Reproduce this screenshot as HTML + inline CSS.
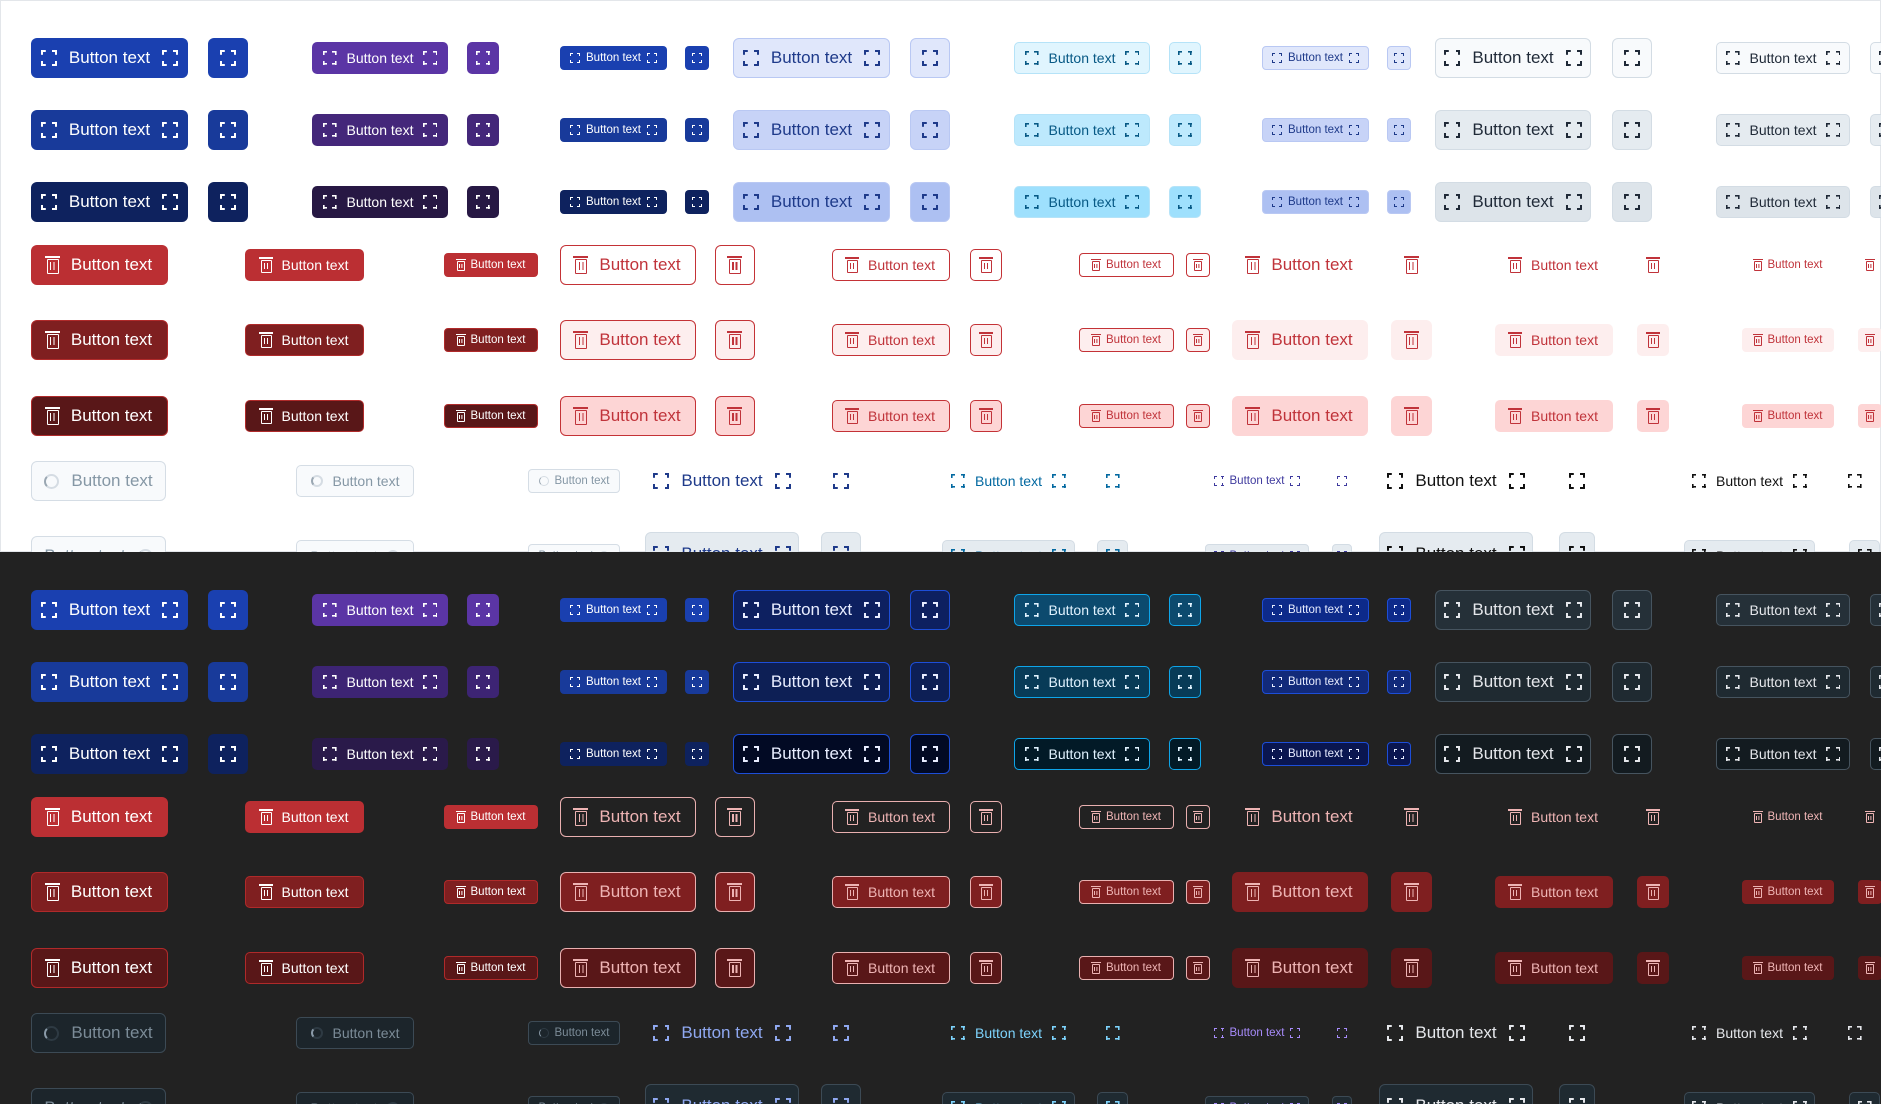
<!DOCTYPE html>
<html><head><meta charset="utf-8"><style>
body{margin:0;width:1881px;height:1104px;position:relative;font-family:"Liberation Sans",sans-serif;overflow:hidden}
.h{position:absolute;left:0;width:1881px;height:552px;overflow:hidden}
.lt{top:0;background:#fff;box-shadow:inset 0 0 0 1px #e3e6ea}
.dk{top:552px;background:#222}
.r{position:absolute;left:0;width:100%;height:0}
.b{position:absolute;box-sizing:border-box;display:flex;align-items:center;justify-content:center;border:1px solid transparent;white-space:nowrap}
.L{top:-20px;height:40px;font-size:17px;border-radius:6px;gap:12px}
.M{top:-16px;height:32px;font-size:14px;border-radius:5px;gap:10px}
.S{top:-12px;height:24px;font-size:11.5px;border-radius:4px;gap:6px}
s{display:inline-block;flex:none;text-decoration:none}
.ic{width:14px;height:14px;background:
linear-gradient(currentColor,currentColor) 0 0/30% 1.6px,linear-gradient(currentColor,currentColor) 0 0/1.6px 30%,
linear-gradient(currentColor,currentColor) 100% 0/30% 1.6px,linear-gradient(currentColor,currentColor) 100% 0/1.6px 30%,
linear-gradient(currentColor,currentColor) 0 100%/30% 1.6px,linear-gradient(currentColor,currentColor) 0 100%/1.6px 30%,
linear-gradient(currentColor,currentColor) 100% 100%/30% 1.6px,linear-gradient(currentColor,currentColor) 100% 100%/1.6px 30%;background-repeat:no-repeat}
.L .ic{width:16px;height:16px;background-size:30% 2px,2px 30%,30% 2px,2px 30%,30% 2px,2px 30%,30% 2px,2px 30%}
.S .ic{width:10px;height:10px;background-size:30% 1.3px,1.3px 30%,30% 1.3px,1.3px 30%,30% 1.3px,1.3px 30%,30% 1.3px,1.3px 30%}
.tr{width:11px;height:13px;box-sizing:border-box;border:1.6px solid currentColor;border-radius:1px;position:relative;margin-top:3px}
.tr:before{content:"";position:absolute;left:-3px;top:-4px;width:14px;height:1.6px;background:currentColor}
.tr:after{content:"";position:absolute;left:2px;top:2px;width:1.3px;height:6px;background:currentColor;box-shadow:3px 0 currentColor}
.L .tr{width:12px;height:15px}
.L .tr:before{width:15px}
.L .tr:after{height:8px;left:2.3px;box-shadow:3.5px 0 currentColor}
.S .tr{width:8px;height:10px;border-width:1.2px;margin-top:2px}
.S .tr:before{left:-2px;top:-3px;width:10px;height:1.2px}
.S .tr:after{left:1.3px;top:1.5px;height:4.5px;width:1px;box-shadow:2.4px 0 currentColor}
.sp{width:15px;height:15px;box-sizing:border-box;border:2px solid #d5dce3;border-left-color:#9aa7b2;border-radius:50%}
.dk .sp{border-color:#2e3a43;border-left-color:#8a9aa8}
.M .sp{width:12px;height:12px}.S .sp{width:10px;height:10px;border-width:1.5px}
.lt .r1 .v1{background:#1a40b0;color:#fff}.lt .r2 .v1{background:#183a9a;color:#fff}.lt .r3 .v1{background:#0e225e;color:#fff}
.lt .r1 .v2{background:#5b35a5;color:#fff}.lt .r2 .v2{background:#44277a;color:#fff}.lt .r3 .v2{background:#271844;color:#fff}
.lt .v3{color:#1e3a8a;border-color:#b9c8f3}.lt .r1 .v3{background:#e0e7fb}.lt .r2 .v3{background:#c7d3f7}.lt .r3 .v3{background:#adc0f2}
.lt .v4{color:#075985;border-color:#b5e3f8}.lt .r1 .v4{background:#e0f5fe}.lt .r2 .v4{background:#bde9fd}.lt .r3 .v4{background:#9ee0fd}
.lt .v5{color:#1f2937;border-color:#d3dce4}.lt .r1 .v5{background:#f8fafc}.lt .r2 .v5{background:#e5ebf0}.lt .r3 .v5{background:#dde4ea}
.dk .r1 .v1{background:#1a40b0;color:#fff}.dk .r2 .v1{background:#183a9a;color:#fff}.dk .r3 .v1{background:#0e225e;color:#fff}
.dk .r1 .v2{background:#5b35a5;color:#fff}.dk .r2 .v2{background:#3d2474;color:#fff}.dk .r3 .v2{background:#2a1a4a;color:#fff}
.dk .v3{color:#e8edff;border-color:#1d4ed8}.dk .r1 .v3{background:#0d2060}.dk .r2 .v3{background:#0d1f55}.dk .r3 .v3{background:#020a24}
.dk .v4{color:#e0f2fe;border-color:#0ea5e9}.dk .r1 .v4{background:#0c4a6e}.dk .r2 .v4{background:#083b57}.dk .r3 .v4{background:#021a27}
.dk .v6{color:#e8edff;border-color:#1d4ed8}.dk .r1 .v6{background:#0d2a8a}.dk .r2 .v6{background:#122a7a}.dk .r3 .v6{background:#0a1650}
.dk .v5{color:#e5e7eb;border-color:#46545f}.dk .r1 .v5{background:#253038}.dk .r2 .v5{background:#1f2a31}.dk .r3 .v5{background:#131b20}
.lt .v6{color:#1e3a8a;border-color:#b9c8f3}.lt .r1 .v6{background:#e0e7fb}.lt .r2 .v6{background:#c7d3f7}.lt .r3 .v6{background:#adc0f2}
.lt .d1{color:#fff}.lt .r4 .d1{background:#bb2f33}.lt .r5 .d1{background:#7f1f20;border-color:#b02a2a}.lt .r6 .d1{background:#591718;border-color:#b02a2a}
.lt .d2{color:#c0333a;border-color:#c43236}.lt .r4 .d2{background:#fff}.lt .r5 .d2{background:#fdeeee}.lt .r6 .d2{background:#fdd5d5}
.lt .d3{color:#c0333a}.lt .r5 .d3{background:#fdeeee}.lt .r6 .d3{background:#fdd5d5}
.dk .d1{color:#fff}.dk .r4 .d1{background:#bb2f33}.dk .r5 .d1{background:#7f1f20;border-color:#b02a2a}.dk .r6 .d1{background:#591718;border-color:#b02a2a}
.dk .d2{color:#eeb4b4;border-color:#e9b0b0}.dk .r5 .d2{background:#7f1f20}.dk .r6 .d2{background:#591718}
.dk .d3{color:#eeb4b4}.dk .r5 .d3{background:#7f1f20}.dk .r6 .d3{background:#591718}
.lt .g1{background:#f8fafc;border-color:#d5dde5;color:#8597a5}
.dk .g1{background:#1c252b;border-color:#3c4a55;color:#7b8b97}
.lt .k1{color:#1e3a8a}.lt .k2{color:#0369a1}.lt .k3{color:#3f3a9e}.lt .k4{color:#111}
.dk .k1{color:#8fa8f0}.dk .k2{color:#7dd3fc}.dk .k3{color:#a78bfa}.dk .k4{color:#e5e7eb}
.lt .r8 .kb{background:#e5ebf0;border-color:#d3dce4}
.dk .r8 .kb{background:#1f2a31;border-color:#3c4a55}
</style></head><body>

<div class="h lt">
<div class="r r1" style="top:58px">
<div class="b L v1" style="left:31px;width:157px"><s class="ic"></s>Button text<s class="ic"></s></div>
<div class="b L v1" style="left:208px;width:40px"><s class="ic"></s></div>
<div class="b M v2" style="left:312px;width:136px"><s class="ic"></s>Button text<s class="ic"></s></div>
<div class="b M v2" style="left:467px;width:32px"><s class="ic"></s></div>
<div class="b S v1" style="left:560px;width:107px"><s class="ic"></s>Button text<s class="ic"></s></div>
<div class="b S v1" style="left:685px;width:24px"><s class="ic"></s></div>
<div class="b L v3" style="left:733px;width:157px"><s class="ic"></s>Button text<s class="ic"></s></div>
<div class="b L v3" style="left:910px;width:40px"><s class="ic"></s></div>
<div class="b M v4" style="left:1014px;width:136px"><s class="ic"></s>Button text<s class="ic"></s></div>
<div class="b M v4" style="left:1169px;width:32px"><s class="ic"></s></div>
<div class="b S v6" style="left:1262px;width:107px"><s class="ic"></s>Button text<s class="ic"></s></div>
<div class="b S v6" style="left:1387px;width:24px"><s class="ic"></s></div>
<div class="b L v5" style="left:1435px;width:156px"><s class="ic"></s>Button text<s class="ic"></s></div>
<div class="b L v5" style="left:1612px;width:40px"><s class="ic"></s></div>
<div class="b M v5" style="left:1716px;width:134px"><s class="ic"></s>Button text<s class="ic"></s></div>
<div class="b M v5" style="left:1870px;width:32px"><s class="ic"></s></div>
</div>
<div class="r r2" style="top:130px">
<div class="b L v1" style="left:31px;width:157px"><s class="ic"></s>Button text<s class="ic"></s></div>
<div class="b L v1" style="left:208px;width:40px"><s class="ic"></s></div>
<div class="b M v2" style="left:312px;width:136px"><s class="ic"></s>Button text<s class="ic"></s></div>
<div class="b M v2" style="left:467px;width:32px"><s class="ic"></s></div>
<div class="b S v1" style="left:560px;width:107px"><s class="ic"></s>Button text<s class="ic"></s></div>
<div class="b S v1" style="left:685px;width:24px"><s class="ic"></s></div>
<div class="b L v3" style="left:733px;width:157px"><s class="ic"></s>Button text<s class="ic"></s></div>
<div class="b L v3" style="left:910px;width:40px"><s class="ic"></s></div>
<div class="b M v4" style="left:1014px;width:136px"><s class="ic"></s>Button text<s class="ic"></s></div>
<div class="b M v4" style="left:1169px;width:32px"><s class="ic"></s></div>
<div class="b S v6" style="left:1262px;width:107px"><s class="ic"></s>Button text<s class="ic"></s></div>
<div class="b S v6" style="left:1387px;width:24px"><s class="ic"></s></div>
<div class="b L v5" style="left:1435px;width:156px"><s class="ic"></s>Button text<s class="ic"></s></div>
<div class="b L v5" style="left:1612px;width:40px"><s class="ic"></s></div>
<div class="b M v5" style="left:1716px;width:134px"><s class="ic"></s>Button text<s class="ic"></s></div>
<div class="b M v5" style="left:1870px;width:32px"><s class="ic"></s></div>
</div>
<div class="r r3" style="top:202px">
<div class="b L v1" style="left:31px;width:157px"><s class="ic"></s>Button text<s class="ic"></s></div>
<div class="b L v1" style="left:208px;width:40px"><s class="ic"></s></div>
<div class="b M v2" style="left:312px;width:136px"><s class="ic"></s>Button text<s class="ic"></s></div>
<div class="b M v2" style="left:467px;width:32px"><s class="ic"></s></div>
<div class="b S v1" style="left:560px;width:107px"><s class="ic"></s>Button text<s class="ic"></s></div>
<div class="b S v1" style="left:685px;width:24px"><s class="ic"></s></div>
<div class="b L v3" style="left:733px;width:157px"><s class="ic"></s>Button text<s class="ic"></s></div>
<div class="b L v3" style="left:910px;width:40px"><s class="ic"></s></div>
<div class="b M v4" style="left:1014px;width:136px"><s class="ic"></s>Button text<s class="ic"></s></div>
<div class="b M v4" style="left:1169px;width:32px"><s class="ic"></s></div>
<div class="b S v6" style="left:1262px;width:107px"><s class="ic"></s>Button text<s class="ic"></s></div>
<div class="b S v6" style="left:1387px;width:24px"><s class="ic"></s></div>
<div class="b L v5" style="left:1435px;width:156px"><s class="ic"></s>Button text<s class="ic"></s></div>
<div class="b L v5" style="left:1612px;width:40px"><s class="ic"></s></div>
<div class="b M v5" style="left:1716px;width:134px"><s class="ic"></s>Button text<s class="ic"></s></div>
<div class="b M v5" style="left:1870px;width:32px"><s class="ic"></s></div>
</div>
<div class="r r4" style="top:265px">
<div class="b L d1" style="left:31px;width:137px"><s class="tr"></s>Button text</div>
<div class="b M d1" style="left:245px;width:119px"><s class="tr"></s>Button text</div>
<div class="b S d1" style="left:444px;width:94px"><s class="tr"></s>Button text</div>
<div class="b L d2" style="left:560px;width:136px"><s class="tr"></s>Button text</div>
<div class="b L d2" style="left:715px;width:40px"><s class="tr"></s></div>
<div class="b M d2" style="left:832px;width:118px"><s class="tr"></s>Button text</div>
<div class="b M d2" style="left:970px;width:32px"><s class="tr"></s></div>
<div class="b S d2" style="left:1079px;width:95px"><s class="tr"></s>Button text</div>
<div class="b S d2" style="left:1186px;width:24px"><s class="tr"></s></div>
<div class="b L d3" style="left:1232px;width:136px"><s class="tr"></s>Button text</div>
<div class="b L d3" style="left:1391px;width:41px"><s class="tr"></s></div>
<div class="b M d3" style="left:1495px;width:118px"><s class="tr"></s>Button text</div>
<div class="b M d3" style="left:1637px;width:32px"><s class="tr"></s></div>
<div class="b S d3" style="left:1742px;width:92px"><s class="tr"></s>Button text</div>
<div class="b S d3" style="left:1858px;width:24px"><s class="tr"></s></div>
</div>
<div class="r r5" style="top:340px">
<div class="b L d1" style="left:31px;width:137px"><s class="tr"></s>Button text</div>
<div class="b M d1" style="left:245px;width:119px"><s class="tr"></s>Button text</div>
<div class="b S d1" style="left:444px;width:94px"><s class="tr"></s>Button text</div>
<div class="b L d2" style="left:560px;width:136px"><s class="tr"></s>Button text</div>
<div class="b L d2" style="left:715px;width:40px"><s class="tr"></s></div>
<div class="b M d2" style="left:832px;width:118px"><s class="tr"></s>Button text</div>
<div class="b M d2" style="left:970px;width:32px"><s class="tr"></s></div>
<div class="b S d2" style="left:1079px;width:95px"><s class="tr"></s>Button text</div>
<div class="b S d2" style="left:1186px;width:24px"><s class="tr"></s></div>
<div class="b L d3" style="left:1232px;width:136px"><s class="tr"></s>Button text</div>
<div class="b L d3" style="left:1391px;width:41px"><s class="tr"></s></div>
<div class="b M d3" style="left:1495px;width:118px"><s class="tr"></s>Button text</div>
<div class="b M d3" style="left:1637px;width:32px"><s class="tr"></s></div>
<div class="b S d3" style="left:1742px;width:92px"><s class="tr"></s>Button text</div>
<div class="b S d3" style="left:1858px;width:24px"><s class="tr"></s></div>
</div>
<div class="r r6" style="top:416px">
<div class="b L d1" style="left:31px;width:137px"><s class="tr"></s>Button text</div>
<div class="b M d1" style="left:245px;width:119px"><s class="tr"></s>Button text</div>
<div class="b S d1" style="left:444px;width:94px"><s class="tr"></s>Button text</div>
<div class="b L d2" style="left:560px;width:136px"><s class="tr"></s>Button text</div>
<div class="b L d2" style="left:715px;width:40px"><s class="tr"></s></div>
<div class="b M d2" style="left:832px;width:118px"><s class="tr"></s>Button text</div>
<div class="b M d2" style="left:970px;width:32px"><s class="tr"></s></div>
<div class="b S d2" style="left:1079px;width:95px"><s class="tr"></s>Button text</div>
<div class="b S d2" style="left:1186px;width:24px"><s class="tr"></s></div>
<div class="b L d3" style="left:1232px;width:136px"><s class="tr"></s>Button text</div>
<div class="b L d3" style="left:1391px;width:41px"><s class="tr"></s></div>
<div class="b M d3" style="left:1495px;width:118px"><s class="tr"></s>Button text</div>
<div class="b M d3" style="left:1637px;width:32px"><s class="tr"></s></div>
<div class="b S d3" style="left:1742px;width:92px"><s class="tr"></s>Button text</div>
<div class="b S d3" style="left:1858px;width:24px"><s class="tr"></s></div>
</div>
<div class="r r7" style="top:481px">
<div class="b L g1" style="left:31px;width:135px"><s class="sp"></s>Button text</div>
<div class="b M g1" style="left:296px;width:118px"><s class="sp"></s>Button text</div>
<div class="b S g1" style="left:528px;width:92px"><s class="sp"></s>Button text</div>
<div class="b L k1" style="left:645px;width:154px"><s class="ic"></s>Button text<s class="ic"></s></div>
<div class="b L k1" style="left:821px;width:40px"><s class="ic"></s></div>
<div class="b M k2" style="left:942px;width:133px"><s class="ic"></s>Button text<s class="ic"></s></div>
<div class="b M k2" style="left:1097px;width:31px"><s class="ic"></s></div>
<div class="b S k3" style="left:1205px;width:104px"><s class="ic"></s>Button text<s class="ic"></s></div>
<div class="b S k3" style="left:1332px;width:20px"><s class="ic"></s></div>
<div class="b L k4" style="left:1379px;width:154px"><s class="ic"></s>Button text<s class="ic"></s></div>
<div class="b L k4" style="left:1557px;width:40px"><s class="ic"></s></div>
<div class="b M k4" style="left:1684px;width:131px"><s class="ic"></s>Button text<s class="ic"></s></div>
<div class="b M k4" style="left:1839px;width:31px"><s class="ic"></s></div>
</div>
<div class="r r8" style="top:556px">
<div class="b L g1" style="left:31px;width:135px">Button text<s class="sp"></s></div>
<div class="b M g1" style="left:296px;width:118px">Button text<s class="sp"></s></div>
<div class="b S g1" style="left:528px;width:92px">Button text<s class="sp"></s></div>
<div class="b L k1 kb" style="left:645px;width:154px;top:-24px;height:44px"><s class="ic"></s>Button text<s class="ic"></s></div>
<div class="b L k1 kb" style="left:821px;width:40px;top:-24px;height:44px"><s class="ic"></s></div>
<div class="b M k2 kb" style="left:942px;width:133px"><s class="ic"></s>Button text<s class="ic"></s></div>
<div class="b M k2 kb" style="left:1097px;width:31px"><s class="ic"></s></div>
<div class="b S k3 kb" style="left:1205px;width:104px"><s class="ic"></s>Button text<s class="ic"></s></div>
<div class="b S k3 kb" style="left:1332px;width:20px"><s class="ic"></s></div>
<div class="b L k4 kb" style="left:1379px;width:154px;top:-24px;height:44px"><s class="ic"></s>Button text<s class="ic"></s></div>
<div class="b L k4 kb" style="left:1559px;width:36px;top:-24px;height:44px"><s class="ic"></s></div>
<div class="b M k4 kb" style="left:1684px;width:131px"><s class="ic"></s>Button text<s class="ic"></s></div>
<div class="b M k4 kb" style="left:1849px;width:31px"><s class="ic"></s></div>
</div>
</div>

<div class="h dk">
<div class="r r1" style="top:58px">
<div class="b L v1" style="left:31px;width:157px"><s class="ic"></s>Button text<s class="ic"></s></div>
<div class="b L v1" style="left:208px;width:40px"><s class="ic"></s></div>
<div class="b M v2" style="left:312px;width:136px"><s class="ic"></s>Button text<s class="ic"></s></div>
<div class="b M v2" style="left:467px;width:32px"><s class="ic"></s></div>
<div class="b S v1" style="left:560px;width:107px"><s class="ic"></s>Button text<s class="ic"></s></div>
<div class="b S v1" style="left:685px;width:24px"><s class="ic"></s></div>
<div class="b L v3" style="left:733px;width:157px"><s class="ic"></s>Button text<s class="ic"></s></div>
<div class="b L v3" style="left:910px;width:40px"><s class="ic"></s></div>
<div class="b M v4" style="left:1014px;width:136px"><s class="ic"></s>Button text<s class="ic"></s></div>
<div class="b M v4" style="left:1169px;width:32px"><s class="ic"></s></div>
<div class="b S v6" style="left:1262px;width:107px"><s class="ic"></s>Button text<s class="ic"></s></div>
<div class="b S v6" style="left:1387px;width:24px"><s class="ic"></s></div>
<div class="b L v5" style="left:1435px;width:156px"><s class="ic"></s>Button text<s class="ic"></s></div>
<div class="b L v5" style="left:1612px;width:40px"><s class="ic"></s></div>
<div class="b M v5" style="left:1716px;width:134px"><s class="ic"></s>Button text<s class="ic"></s></div>
<div class="b M v5" style="left:1870px;width:32px"><s class="ic"></s></div>
</div>
<div class="r r2" style="top:130px">
<div class="b L v1" style="left:31px;width:157px"><s class="ic"></s>Button text<s class="ic"></s></div>
<div class="b L v1" style="left:208px;width:40px"><s class="ic"></s></div>
<div class="b M v2" style="left:312px;width:136px"><s class="ic"></s>Button text<s class="ic"></s></div>
<div class="b M v2" style="left:467px;width:32px"><s class="ic"></s></div>
<div class="b S v1" style="left:560px;width:107px"><s class="ic"></s>Button text<s class="ic"></s></div>
<div class="b S v1" style="left:685px;width:24px"><s class="ic"></s></div>
<div class="b L v3" style="left:733px;width:157px"><s class="ic"></s>Button text<s class="ic"></s></div>
<div class="b L v3" style="left:910px;width:40px"><s class="ic"></s></div>
<div class="b M v4" style="left:1014px;width:136px"><s class="ic"></s>Button text<s class="ic"></s></div>
<div class="b M v4" style="left:1169px;width:32px"><s class="ic"></s></div>
<div class="b S v6" style="left:1262px;width:107px"><s class="ic"></s>Button text<s class="ic"></s></div>
<div class="b S v6" style="left:1387px;width:24px"><s class="ic"></s></div>
<div class="b L v5" style="left:1435px;width:156px"><s class="ic"></s>Button text<s class="ic"></s></div>
<div class="b L v5" style="left:1612px;width:40px"><s class="ic"></s></div>
<div class="b M v5" style="left:1716px;width:134px"><s class="ic"></s>Button text<s class="ic"></s></div>
<div class="b M v5" style="left:1870px;width:32px"><s class="ic"></s></div>
</div>
<div class="r r3" style="top:202px">
<div class="b L v1" style="left:31px;width:157px"><s class="ic"></s>Button text<s class="ic"></s></div>
<div class="b L v1" style="left:208px;width:40px"><s class="ic"></s></div>
<div class="b M v2" style="left:312px;width:136px"><s class="ic"></s>Button text<s class="ic"></s></div>
<div class="b M v2" style="left:467px;width:32px"><s class="ic"></s></div>
<div class="b S v1" style="left:560px;width:107px"><s class="ic"></s>Button text<s class="ic"></s></div>
<div class="b S v1" style="left:685px;width:24px"><s class="ic"></s></div>
<div class="b L v3" style="left:733px;width:157px"><s class="ic"></s>Button text<s class="ic"></s></div>
<div class="b L v3" style="left:910px;width:40px"><s class="ic"></s></div>
<div class="b M v4" style="left:1014px;width:136px"><s class="ic"></s>Button text<s class="ic"></s></div>
<div class="b M v4" style="left:1169px;width:32px"><s class="ic"></s></div>
<div class="b S v6" style="left:1262px;width:107px"><s class="ic"></s>Button text<s class="ic"></s></div>
<div class="b S v6" style="left:1387px;width:24px"><s class="ic"></s></div>
<div class="b L v5" style="left:1435px;width:156px"><s class="ic"></s>Button text<s class="ic"></s></div>
<div class="b L v5" style="left:1612px;width:40px"><s class="ic"></s></div>
<div class="b M v5" style="left:1716px;width:134px"><s class="ic"></s>Button text<s class="ic"></s></div>
<div class="b M v5" style="left:1870px;width:32px"><s class="ic"></s></div>
</div>
<div class="r r4" style="top:265px">
<div class="b L d1" style="left:31px;width:137px"><s class="tr"></s>Button text</div>
<div class="b M d1" style="left:245px;width:119px"><s class="tr"></s>Button text</div>
<div class="b S d1" style="left:444px;width:94px"><s class="tr"></s>Button text</div>
<div class="b L d2" style="left:560px;width:136px"><s class="tr"></s>Button text</div>
<div class="b L d2" style="left:715px;width:40px"><s class="tr"></s></div>
<div class="b M d2" style="left:832px;width:118px"><s class="tr"></s>Button text</div>
<div class="b M d2" style="left:970px;width:32px"><s class="tr"></s></div>
<div class="b S d2" style="left:1079px;width:95px"><s class="tr"></s>Button text</div>
<div class="b S d2" style="left:1186px;width:24px"><s class="tr"></s></div>
<div class="b L d3" style="left:1232px;width:136px"><s class="tr"></s>Button text</div>
<div class="b L d3" style="left:1391px;width:41px"><s class="tr"></s></div>
<div class="b M d3" style="left:1495px;width:118px"><s class="tr"></s>Button text</div>
<div class="b M d3" style="left:1637px;width:32px"><s class="tr"></s></div>
<div class="b S d3" style="left:1742px;width:92px"><s class="tr"></s>Button text</div>
<div class="b S d3" style="left:1858px;width:24px"><s class="tr"></s></div>
</div>
<div class="r r5" style="top:340px">
<div class="b L d1" style="left:31px;width:137px"><s class="tr"></s>Button text</div>
<div class="b M d1" style="left:245px;width:119px"><s class="tr"></s>Button text</div>
<div class="b S d1" style="left:444px;width:94px"><s class="tr"></s>Button text</div>
<div class="b L d2" style="left:560px;width:136px"><s class="tr"></s>Button text</div>
<div class="b L d2" style="left:715px;width:40px"><s class="tr"></s></div>
<div class="b M d2" style="left:832px;width:118px"><s class="tr"></s>Button text</div>
<div class="b M d2" style="left:970px;width:32px"><s class="tr"></s></div>
<div class="b S d2" style="left:1079px;width:95px"><s class="tr"></s>Button text</div>
<div class="b S d2" style="left:1186px;width:24px"><s class="tr"></s></div>
<div class="b L d3" style="left:1232px;width:136px"><s class="tr"></s>Button text</div>
<div class="b L d3" style="left:1391px;width:41px"><s class="tr"></s></div>
<div class="b M d3" style="left:1495px;width:118px"><s class="tr"></s>Button text</div>
<div class="b M d3" style="left:1637px;width:32px"><s class="tr"></s></div>
<div class="b S d3" style="left:1742px;width:92px"><s class="tr"></s>Button text</div>
<div class="b S d3" style="left:1858px;width:24px"><s class="tr"></s></div>
</div>
<div class="r r6" style="top:416px">
<div class="b L d1" style="left:31px;width:137px"><s class="tr"></s>Button text</div>
<div class="b M d1" style="left:245px;width:119px"><s class="tr"></s>Button text</div>
<div class="b S d1" style="left:444px;width:94px"><s class="tr"></s>Button text</div>
<div class="b L d2" style="left:560px;width:136px"><s class="tr"></s>Button text</div>
<div class="b L d2" style="left:715px;width:40px"><s class="tr"></s></div>
<div class="b M d2" style="left:832px;width:118px"><s class="tr"></s>Button text</div>
<div class="b M d2" style="left:970px;width:32px"><s class="tr"></s></div>
<div class="b S d2" style="left:1079px;width:95px"><s class="tr"></s>Button text</div>
<div class="b S d2" style="left:1186px;width:24px"><s class="tr"></s></div>
<div class="b L d3" style="left:1232px;width:136px"><s class="tr"></s>Button text</div>
<div class="b L d3" style="left:1391px;width:41px"><s class="tr"></s></div>
<div class="b M d3" style="left:1495px;width:118px"><s class="tr"></s>Button text</div>
<div class="b M d3" style="left:1637px;width:32px"><s class="tr"></s></div>
<div class="b S d3" style="left:1742px;width:92px"><s class="tr"></s>Button text</div>
<div class="b S d3" style="left:1858px;width:24px"><s class="tr"></s></div>
</div>
<div class="r r7" style="top:481px">
<div class="b L g1" style="left:31px;width:135px"><s class="sp"></s>Button text</div>
<div class="b M g1" style="left:296px;width:118px"><s class="sp"></s>Button text</div>
<div class="b S g1" style="left:528px;width:92px"><s class="sp"></s>Button text</div>
<div class="b L k1" style="left:645px;width:154px"><s class="ic"></s>Button text<s class="ic"></s></div>
<div class="b L k1" style="left:821px;width:40px"><s class="ic"></s></div>
<div class="b M k2" style="left:942px;width:133px"><s class="ic"></s>Button text<s class="ic"></s></div>
<div class="b M k2" style="left:1097px;width:31px"><s class="ic"></s></div>
<div class="b S k3" style="left:1205px;width:104px"><s class="ic"></s>Button text<s class="ic"></s></div>
<div class="b S k3" style="left:1332px;width:20px"><s class="ic"></s></div>
<div class="b L k4" style="left:1379px;width:154px"><s class="ic"></s>Button text<s class="ic"></s></div>
<div class="b L k4" style="left:1557px;width:40px"><s class="ic"></s></div>
<div class="b M k4" style="left:1684px;width:131px"><s class="ic"></s>Button text<s class="ic"></s></div>
<div class="b M k4" style="left:1839px;width:31px"><s class="ic"></s></div>
</div>
<div class="r r8" style="top:556px">
<div class="b L g1" style="left:31px;width:135px">Button text<s class="sp"></s></div>
<div class="b M g1" style="left:296px;width:118px">Button text<s class="sp"></s></div>
<div class="b S g1" style="left:528px;width:92px">Button text<s class="sp"></s></div>
<div class="b L k1 kb" style="left:645px;width:154px;top:-24px;height:44px"><s class="ic"></s>Button text<s class="ic"></s></div>
<div class="b L k1 kb" style="left:821px;width:40px;top:-24px;height:44px"><s class="ic"></s></div>
<div class="b M k2 kb" style="left:942px;width:133px"><s class="ic"></s>Button text<s class="ic"></s></div>
<div class="b M k2 kb" style="left:1097px;width:31px"><s class="ic"></s></div>
<div class="b S k3 kb" style="left:1205px;width:104px"><s class="ic"></s>Button text<s class="ic"></s></div>
<div class="b S k3 kb" style="left:1332px;width:20px"><s class="ic"></s></div>
<div class="b L k4 kb" style="left:1379px;width:154px;top:-24px;height:44px"><s class="ic"></s>Button text<s class="ic"></s></div>
<div class="b L k4 kb" style="left:1559px;width:36px;top:-24px;height:44px"><s class="ic"></s></div>
<div class="b M k4 kb" style="left:1684px;width:131px"><s class="ic"></s>Button text<s class="ic"></s></div>
<div class="b M k4 kb" style="left:1849px;width:31px"><s class="ic"></s></div>
</div>
</div>
</body></html>
